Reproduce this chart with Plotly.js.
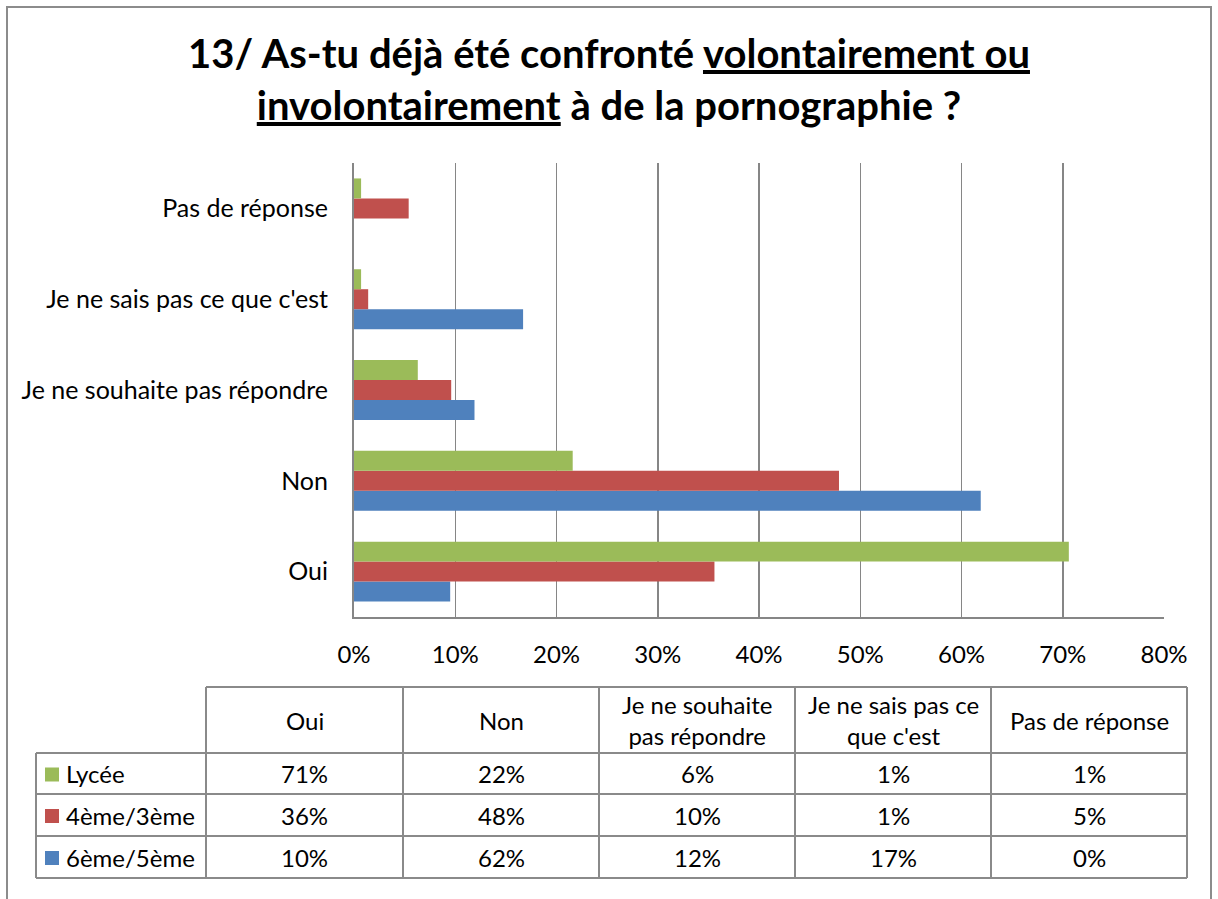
<!DOCTYPE html>
<html>
<head>
<meta charset="utf-8">
<script src="https://cdn.plot.ly/plotly-3.0.1.min.js"></script>
<style>
  html, body { margin: 0; padding: 0; background: #ffffff; }
  #chart { width: 1218px; height: 899px; }
</style>
</head>
<body>
<div id="chart"></div>
<script>
// ---- Data (values in %) ----
const categories = ["Oui", "Non", "Je ne souhaite pas répondre", "Je ne sais pas ce que c'est", "Pas de réponse"];
const seriesNames = ["6ème/5ème", "4ème/3ème", "Lycée"];
const sixieme = [9.5, 61.9, 11.9, 16.7, 0];
const quatrieme = [35.6, 47.9, 9.6, 1.4, 5.4];
const lycee = [70.6, 21.6, 6.3, 0.7, 0.7];
const xTicks = [0, 10, 20, 30, 40, 50, 60, 70, 80];
const titleText = "13/ As-tu déjà été confronté <u>volontairement ou</u><br><u>involontairement</u> à de la pornographie ?";

// ---- Style ----
const colors = { "6ème/5ème": "#4F81BD", "4ème/3ème": "#C0504D", "Lycée": "#9BBB59" };
const FONT = "Lato, 'Open Sans', sans-serif";
const FS = 24;
const gridColor = "#868686";
const W = 1218, H = 899;
const M = { l: 354, r: 54, t: 163, b: 282 };
const PW = W - M.l - M.r, PH = H - M.t - M.b;
const px = x => (x - M.l) / PW;
const py = y => (H - M.b - y) / PH;

const seriesValues = { "6ème/5ème": sixieme, "4ème/3ème": quatrieme, "Lycée": lycee };

const traces = seriesNames.map(name => ({
  type: "bar",
  orientation: "h",
  name: name,
  y: categories,
  x: seriesValues[name],
  marker: { color: colors[name] },
  hoverinfo: "x+name"
}));

// ---- Table below the chart (shapes + annotations) ----
const colEdges = [36, 206, 403, 599, 795, 991, 1187];
const rowEdges = [687, 753, 794, 836, 878];
const lineStyle = { color: "#8a8a8a", width: 2 };
const shapes = [];
const annotations = [];

// outer frame
shapes.push({ type: "rect", xref: "paper", yref: "paper", x0: px(7), x1: px(1211), y0: py(7), y1: py(905),
  line: { color: "#8c8c8c", width: 2 }, fillcolor: "rgba(0,0,0,0)", layer: "below" });

// horizontal lines
rowEdges.forEach((y, i) => {
  const xStart = i === 0 ? colEdges[1] : colEdges[0];
  shapes.push({ type: "line", xref: "paper", yref: "paper", x0: px(xStart), x1: px(colEdges[6]), y0: py(y), y1: py(y), line: lineStyle });
});
// vertical lines
colEdges.forEach((x, i) => {
  const yStart = i === 0 ? rowEdges[1] : rowEdges[0];
  shapes.push({ type: "line", xref: "paper", yref: "paper", x0: px(x), x1: px(x), y0: py(yStart), y1: py(rowEdges[4]), line: lineStyle });
});

function wrap(s, n) {
  const words = s.split(" ");
  const lines = []; let cur = "";
  words.forEach(w => {
    if ((cur + " " + w).trim().length > n && cur) { lines.push(cur); cur = w; }
    else cur = (cur + " " + w).trim();
  });
  if (cur) lines.push(cur);
  return lines.join("<br>");
}

const tableFont = { family: FONT, size: FS, color: "#000" };
// header
categories.forEach((c, j) => {
  annotations.push({ xref: "paper", yref: "paper", x: px((colEdges[j + 1] + colEdges[j + 2]) / 2), y: py((rowEdges[0] + rowEdges[1]) / 2),
    text: wrap(c, 17), showarrow: false, font: tableFont, xanchor: "center", yanchor: "middle", align: "center" });
});
// rows: Lycée, 4ème, 6ème (top to bottom)
const rowOrder = ["Lycée", "4ème/3ème", "6ème/5ème"];
rowOrder.forEach((name, r) => {
  const yc = (rowEdges[r + 1] + rowEdges[r + 2]) / 2;
  shapes.push({ type: "rect", xref: "paper", yref: "paper", x0: px(45), x1: px(59), y0: py(yc - 6), y1: py(yc + 8),
    fillcolor: colors[name], line: { width: 0 } });
  annotations.push({ xref: "paper", yref: "paper", x: px(64), y: py(yc), text: name, showarrow: false, font: tableFont,
    xanchor: "left", yanchor: "middle" });
  seriesValues[name].forEach((v, j) => {
    annotations.push({ xref: "paper", yref: "paper", x: px((colEdges[j + 1] + colEdges[j + 2]) / 2), y: py(yc),
      text: Math.round(v) + "%", showarrow: false, font: tableFont, xanchor: "center", yanchor: "middle" });
  });
});

const layout = {
  width: W, height: H,
  margin: M,
  paper_bgcolor: "#ffffff",
  plot_bgcolor: "#ffffff",
  showlegend: false,
  barmode: "group",
  bargap: 0.34,
  bargroupgap: 0,
  font: { family: FONT, size: FS, color: "#000" },
  title: {
    text: titleText,
    font: { family: FONT, size: 40, color: "#000", weight: "bold" },
    x: 0.5, xanchor: "center",
    y: 1 - 68 / H, yanchor: "middle", yref: "container"
  },
  xaxis: {
    range: [0, 80],
    tickvals: xTicks,
    ticktext: xTicks.map(v => v + "%"),
    showgrid: true, gridcolor: gridColor, gridwidth: 1.5,
    zeroline: false,
    showline: true, linecolor: gridColor, linewidth: 1.5,
    ticks: "", ticklabelstandoff: 16,
    tickfont: { family: FONT, size: FS, color: "#000" },
    fixedrange: true
  },
  yaxis: {
    type: "category",
    range: [-0.5, 4.5],
    showgrid: false,
    showline: true, linecolor: gridColor, linewidth: 2,
    ticks: "", ticklabelstandoff: 19,
    tickfont: { family: FONT, size: 25, color: "#000" },
    fixedrange: true
  },
  shapes: shapes,
  annotations: annotations
};

Plotly.newPlot("chart", traces, layout, { displayModeBar: false, staticPlot: true });
</script>
</body>
</html>
